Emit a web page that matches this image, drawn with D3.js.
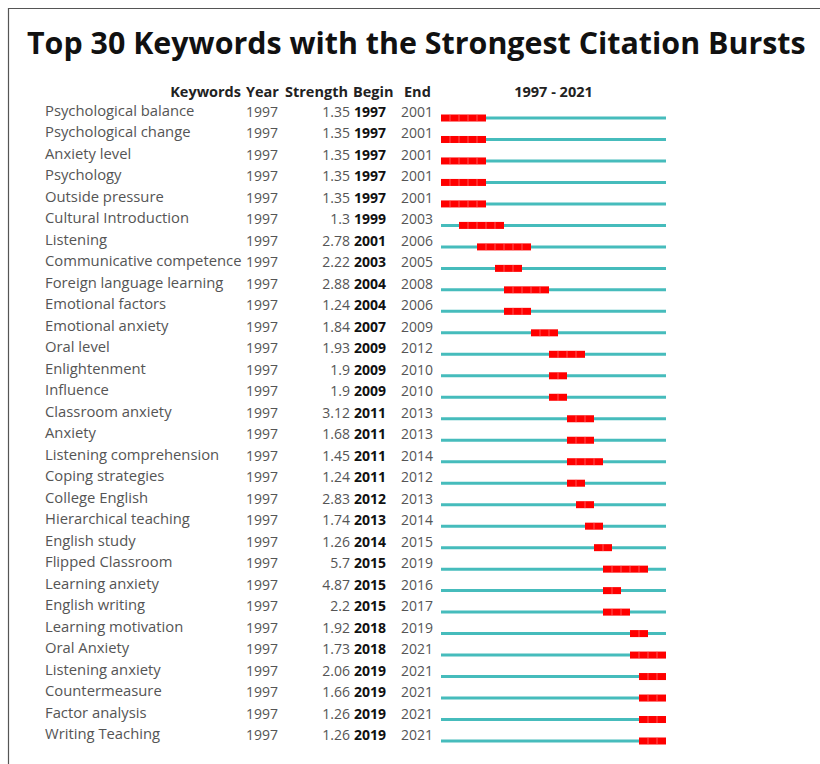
<!DOCTYPE html>
<html><head><meta charset="utf-8">
<script src="https://cdn.jsdelivr.net/npm/d3@7/dist/d3.min.js"></script>
<style>body{margin:0;background:#fff;}svg{display:block;}</style>
</head><body>
<script>
const keywords = ["Psychological balance","Psychological change","Anxiety level","Psychology","Outside pressure","Cultural Introduction","Listening","Communicative competence","Foreign language learning","Emotional factors","Emotional anxiety","Oral level","Enlightenment","Influence","Classroom anxiety","Anxiety","Listening comprehension","Coping strategies","College English","Hierarchical teaching","English study","Flipped Classroom","Learning anxiety","English writing","Learning motivation","Oral Anxiety","Listening anxiety","Countermeasure","Factor analysis","Writing Teaching"];
const years = [1997,1997,1997,1997,1997,1997,1997,1997,1997,1997,1997,1997,1997,1997,1997,1997,1997,1997,1997,1997,1997,1997,1997,1997,1997,1997,1997,1997,1997,1997];
const strengths = ["1.35","1.35","1.35","1.35","1.35","1.3","2.78","2.22","2.88","1.24","1.84","1.93","1.9","1.9","3.12","1.68","1.45","1.24","2.83","1.74","1.26","5.7","4.87","2.2","1.92","1.73","2.06","1.66","1.26","1.26"];
const begins = [1997,1997,1997,1997,1997,1999,2001,2003,2004,2004,2007,2009,2009,2009,2011,2011,2011,2011,2012,2013,2014,2015,2015,2015,2018,2018,2019,2019,2019,2019];
const ends = [2001,2001,2001,2001,2001,2003,2006,2005,2008,2006,2009,2012,2010,2010,2013,2013,2014,2012,2013,2014,2015,2019,2016,2017,2019,2021,2021,2021,2021,2021];
const rangeStart = 1997, rangeEnd = 2021;
const title = "Top 30 Keywords with the Strongest Citation Bursts";
const headers = ["Keywords","Year","Strength","Begin","End"];

const W = 820, H = 764;
const svg = d3.select("body").append("svg").attr("width", W).attr("height", H);

// frame
svg.append("line").attr("x1",8).attr("x2",W).attr("y1",8.5).attr("y2",8.5).attr("stroke","#555").attr("stroke-width",1.2);
svg.append("line").attr("x1",8.5).attr("x2",8.5).attr("y1",8).attr("y2",H).attr("stroke","#555").attr("stroke-width",1.2);

// title
const t = svg.append("text").attr("x",27).attr("y",54)
  .attr("font-family","Open Sans").attr("font-weight",700).attr("font-size",28)
  .attr("fill","#111").text(title);
const tw = t.node().getComputedTextLength();
t.attr("font-size", 28 * 779 / tw);

const font = "Open Sans";
const rows = d3.range(keywords.length);
const y = d3.scaleLinear().domain([0, keywords.length-1]).range([118, 741]);
const x = d3.scaleLinear().domain([rangeStart, rangeEnd+1]).range([441, 666]);

// headers
const hy = 97;
const hg = svg.append("g").attr("font-family",font).attr("font-weight",700).attr("font-size",14.5).attr("fill","#222");
hg.append("text").attr("x",241).attr("y",hy).attr("text-anchor","end").text(headers[0]);
hg.append("text").attr("x",246).attr("y",hy).text(headers[1]);
hg.append("text").attr("x",285).attr("y",hy).text(headers[2]);
hg.append("text").attr("x",353).attr("y",hy).text(headers[3]);
hg.append("text").attr("x",404).attr("y",hy).text(headers[4]);
hg.append("text").attr("x",(x(rangeStart)+x(rangeEnd+1))/2).attr("y",hy).attr("text-anchor","middle").text(rangeStart + " - " + rangeEnd);

const g = svg.append("g").attr("font-family",font).attr("font-size",14).attr("fill","#555");
const r = g.selectAll("g.row").data(rows).join("g").attr("class","row");
r.append("text").attr("x",45).attr("y",i=>y(i)-2).attr("font-size",14.8).text(i=>keywords[i]);
r.append("text").attr("x",246).attr("y",i=>y(i)-1).text(i=>years[i]);
r.append("text").attr("x",350).attr("y",i=>y(i)-1).attr("text-anchor","end").text(i=>strengths[i]);
r.append("text").attr("x",354).attr("y",i=>y(i)-1).attr("font-weight",700).attr("fill","#111").text(i=>begins[i]);
r.append("text").attr("x",401).attr("y",i=>y(i)-1).text(i=>ends[i]);

// timeline
const yrs = d3.range(rangeStart, rangeEnd+1);
r.append("line").attr("x1",x(rangeStart)).attr("x2",x(rangeEnd+1))
  .attr("y1",i=>y(i)).attr("y2",i=>y(i)).attr("stroke","#46bcbc").attr("stroke-width",3);
r.append("rect").attr("x",i=>x(begins[i])).attr("width",i=>x(ends[i]+1)-x(begins[i]))
  .attr("y",i=>y(i)-3.5).attr("height",7).attr("fill","#f00");
r.each(function(i){
  const divs = yrs.filter(v => v > begins[i] && v <= ends[i]);
  d3.select(this).selectAll("line.d").data(divs).join("line").attr("class","d")
    .attr("x1",v=>x(v)).attr("x2",v=>x(v)).attr("y1",y(i)-3.5).attr("y2",y(i)+3.5)
    .attr("stroke","#ff7a7a").attr("stroke-width",0.7);
});
</script>
</body></html>
